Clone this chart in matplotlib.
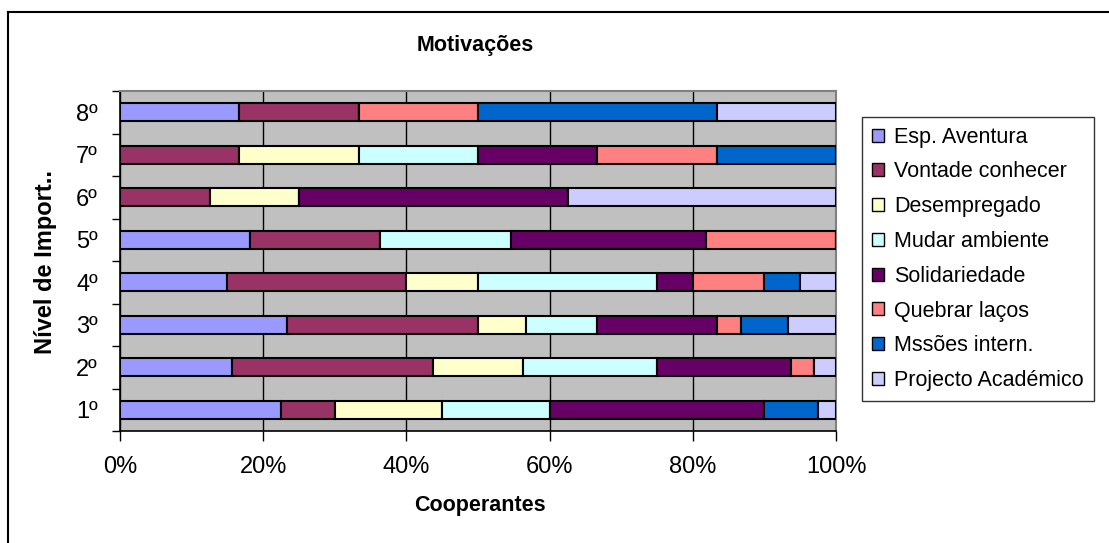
import matplotlib
matplotlib.use("Agg")
import matplotlib.pyplot as plt
from matplotlib.patches import Patch
from matplotlib.lines import Line2D
import numpy as np

plt.rcParams['font.family'] = ['Liberation Sans', 'DejaVu Sans']

# Importance levels (bottom to top) and motivation categories
levels = ["1º", "2º", "3º", "4º", "5º", "6º", "7º", "8º"]
categories = ["Esp. Aventura", "Vontade conhecer", "Desempregado", "Mudar ambiente",
              "Solidariedade", "Quebrar laços", "Mssões intern.", "Projecto Académico"]
colors = ["#9999FF", "#993366", "#FFFFCC", "#CCFFFF",
          "#660066", "#FF8080", "#0066CC", "#CCCCFF"]

# Number of answers per category, for levels 1º..8º
esp_aventura = [9, 5, 7, 3, 2, 0, 0, 1]
vontade_conhecer = [3, 9, 8, 5, 2, 1, 1, 1]
desempregado = [6, 4, 2, 2, 0, 1, 1, 0]
mudar_ambiente = [6, 6, 3, 5, 2, 0, 1, 0]
solidariedade = [12, 6, 5, 1, 3, 3, 1, 0]
quebrar_lacos = [0, 1, 1, 2, 2, 0, 1, 1]
missoes_intern = [3, 0, 2, 1, 0, 0, 1, 2]
projecto_academico = [1, 1, 2, 1, 0, 3, 0, 1]

series = [esp_aventura, vontade_conhecer, desempregado, mudar_ambiente,
          solidariedade, quebrar_lacos, missoes_intern, projecto_academico]

counts = np.array(series, dtype=float)
pct = counts / counts.sum(axis=0) * 100

fig = plt.figure(figsize=(11.09, 5.43), dpi=100)
ax = fig.add_axes([120 / 1109, 1 - 431 / 543, 716 / 1109, 340 / 543])
ax.set_facecolor("#C0C0C0")

y = np.arange(len(levels))
left = np.zeros(len(levels))
for vals, col in zip(pct, colors):
    ax.barh(y, vals, left=left, height=0.42, color=col,
            edgecolor="black", linewidth=1.5, zorder=3)
    left += vals

ax.set_xlim(0, 100)
ax.set_ylim(-0.5, len(levels) - 0.5)

# gridlines
ax.set_xticks([0, 20, 40, 60, 80, 100])
ax.set_xticklabels(["0%", "20%", "40%", "60%", "80%", "100%"], fontsize=17)
ax.xaxis.grid(True, color="black", linewidth=1, zorder=1)
ax.set_axisbelow(True)

ax.set_yticks(y)
ax.set_yticklabels(levels, fontsize=17)
ax.tick_params(axis="y", length=0, pad=16)
ax.set_yticks(np.arange(-0.5, len(levels), 1), minor=True)
ax.tick_params(axis="y", which="minor", length=6, width=1, color="black")
ax.tick_params(axis="x", length=7, width=1, pad=11)

for s in ["top", "right"]:
    ax.spines[s].set_color("#808080")
    ax.spines[s].set_linewidth(1.5)
for s in ["left", "bottom"]:
    ax.spines[s].set_color("black")
    ax.spines[s].set_linewidth(1.2)

fig.text(475 / 1109, 1 - 45 / 543, "Motivações", fontsize=15.5, fontweight="bold",
         ha="center", va="center")
fig.text(480 / 1109, 1 - 505 / 543, "Cooperantes", fontsize=15.5, fontweight="bold",
         ha="center", va="center")
fig.text(46 / 1109, 1 - 262 / 543, "Nível de Import..", fontsize=17, fontweight="bold",
         ha="center", va="center", rotation=90)

handles = [Patch(facecolor=c, edgecolor="black", linewidth=1) for c in colors]
leg = fig.legend(handles, categories, loc="upper left",
                 bbox_to_anchor=(862 / 1109, 1 - 117 / 543),
                 fontsize=15.5, frameon=True, fancybox=False, edgecolor="black",
                 handlelength=0.55, handleheight=0.55, handletextpad=0.5,
                 labelspacing=0.64, borderpad=0.45, borderaxespad=0)
leg.get_frame().set_linewidth(1)

# outer chart border (top and left)
fig.add_artist(Line2D([8 / 1109, 1], [1 - 12 / 543, 1 - 12 / 543],
                      transform=fig.transFigure, color="black", linewidth=1.5))
fig.add_artist(Line2D([8 / 1109, 8 / 1109], [0, 1 - 12 / 543],
                      transform=fig.transFigure, color="black", linewidth=1.5))

fig.savefig("out.png", dpi=100, facecolor="white")
